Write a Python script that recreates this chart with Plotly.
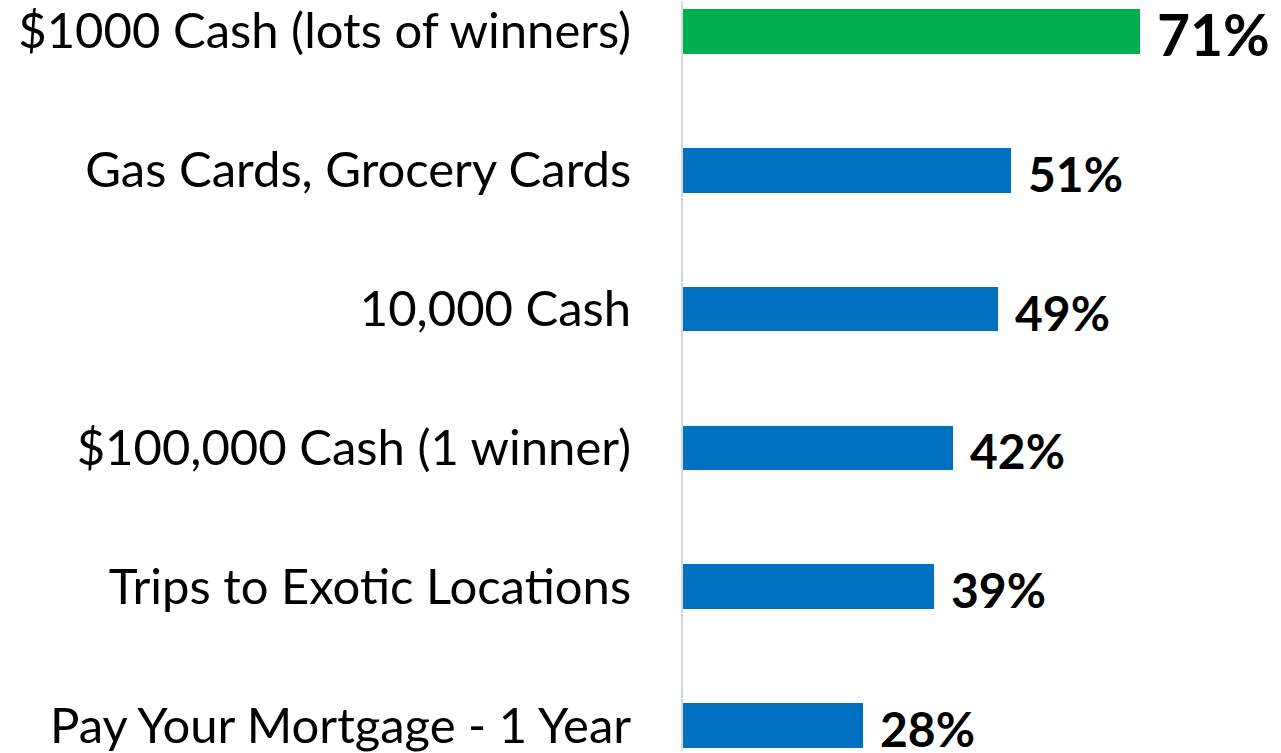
import plotly.graph_objects as go

# Prize preferences, top to bottom
categories = [
    "$1000 Cash (lots of winners)",
    "Gas Cards, Grocery Cards",
    "10,000 Cash",
    "$100,000 Cash (1 winner)",
    "Trips to Exotic Locations",
    "Pay Your Mortgage - 1 Year",
]
values = [71, 51, 49, 42, 39, 28]
bar_colors = ["#00B050", "#0070C0", "#0070C0", "#0070C0", "#0070C0", "#0070C0"]
label_sizes = [57, 48, 48, 48, 48, 48]

FONT = "Lato"

fig = go.Figure(
    go.Bar(
        x=values,
        y=categories,
        orientation="h",
        marker=dict(color=bar_colors, line=dict(width=0)),
        width=0.323,
        hoverinfo="skip",
    )
)

for cat, val, size in zip(categories, values, label_sizes):
    fig.add_annotation(
        x=val,
        y=cat,
        text=f"<b>{val}%</b>",
        showarrow=False,
        xanchor="left",
        yanchor="middle",
        xshift=15,
        yshift=-3,
        font=dict(family=FONT, size=size, color="#000000"),
    )

fig.update_layout(
    width=1281,
    height=753,
    margin=dict(l=683, r=0, t=0, b=0),
    paper_bgcolor="white",
    plot_bgcolor="white",
    showlegend=False,
    bargap=0,
    xaxis=dict(
        range=[0, 92.9],
        visible=False,
        showgrid=False,
        zeroline=False,
    ),
    yaxis=dict(
        type="category",
        categoryorder="array",
        categoryarray=categories,
        range=[5.181, -0.217],
        showgrid=False,
        zeroline=False,
        showline=True,
        linecolor="#D9D9D9",
        linewidth=2,
        ticks="",
        ticklabelstandoff=40,
        tickfont=dict(family=FONT, size=49, color="#000000"),
    ),
)

fig.write_html("out.html")
